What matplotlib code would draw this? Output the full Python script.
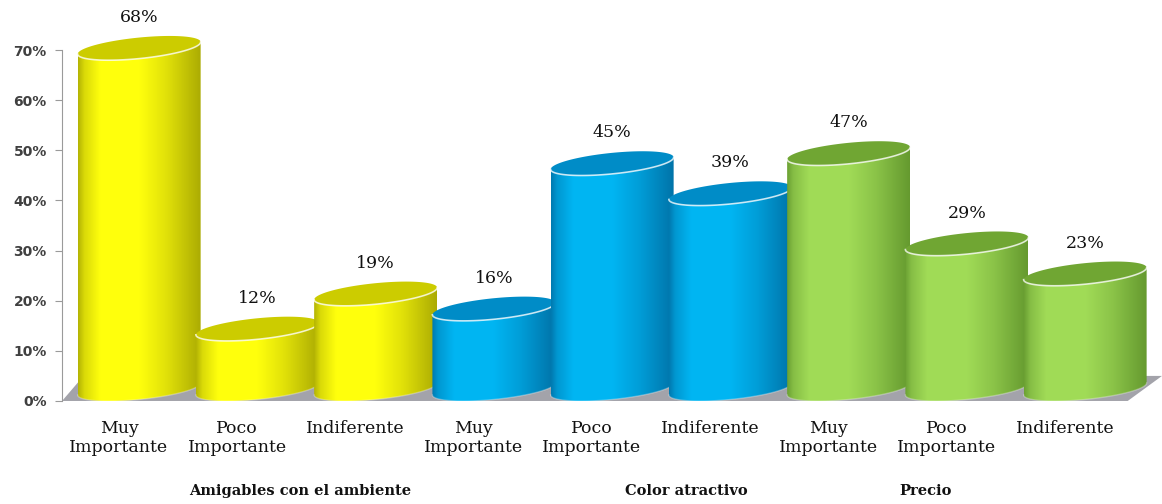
import numpy as np
import matplotlib
matplotlib.use("Agg")
import matplotlib.pyplot as plt
from matplotlib.patches import Polygon

# data
categories = ["Muy\nImportante", "Poco\nImportante", "Indiferente"] * 3
groups = ["Amigables con el ambiente", "Color atractivo", "Precio"]
values = [0.68, 0.12, 0.19, 0.16, 0.45, 0.39, 0.47, 0.29, 0.23]
value_labels = ["68%", "12%", "19%", "16%", "45%", "39%", "47%", "29%", "23%"]
yticks = [0.0, 0.1, 0.2, 0.3, 0.4, 0.5, 0.6, 0.7]
ytick_labels = ["0%", "10%", "20%", "30%", "40%", "50%", "60%", "70%"]

# colours per group: (light side, dark side, top)
palette = [
    ((1.0, 1.0, 0.05), (0.58, 0.58, 0.0), (0.80, 0.80, 0.0)),
    ((0.0, 0.71, 0.95), (0.0, 0.38, 0.58), (0.0, 0.55, 0.78)),
    ((0.63, 0.86, 0.34), (0.33, 0.53, 0.14), (0.44, 0.65, 0.20)),
]

# 3d look parameters
dx = 0.17      # depth shift to the right
off = 0.024    # depth shift up
a = 0.52       # half width
b = 0.021      # ellipse half height
s = 0.012      # tilt of the ellipse

fig = plt.figure(figsize=(11.62, 5.04), dpi=100)
ax = fig.add_axes([0.0534, 0.2044, 0.9466, 0.7758])

# floor
floor = Polygon([(-0.482, 0.0), (8.53, 0.0), (8.82, 0.05), (-0.30, 0.05)],
                closed=True, facecolor="#a3a3aa", edgecolor="none", zorder=1)
ax.add_patch(floor)

t_front = np.linspace(np.pi, 2 * np.pi, 80)
t_full = np.linspace(0, 2 * np.pi, 160)
u = np.linspace(0, 1, 200)
shade = np.interp(u, [0, 0.05, 0.18, 0.5, 0.72, 1.0], [0.3, 0.65, 1.0, 1.0, 0.72, 0.22])

for i, v in enumerate(values):
    light, dark, top = [np.array(c) for c in palette[i // 3]]
    cx = i + dx
    y0 = off
    y1 = v + off
    z = 2 + i

    # body
    top_arc = np.column_stack([cx + a * np.cos(t_front), y1 + b * np.sin(t_front) + s * np.cos(t_front)])
    bot_arc = np.column_stack([cx + a * np.cos(t_front), y0 + b * np.sin(t_front) + s * np.cos(t_front)])
    body = Polygon(np.vstack([top_arc, bot_arc[::-1]]), closed=True,
                   facecolor="none", edgecolor="none", zorder=z)
    ax.add_patch(body)
    grad = dark[None, :] + (light - dark)[None, :] * shade[:, None]
    img = ax.imshow(grad[None, :, :], extent=[cx - a, cx + a, y0 - b - s, y1 + b + s],
                    aspect="auto", origin="lower", zorder=z, interpolation="bilinear")
    img.set_clip_path(body)

    # top ellipse
    ell = np.column_stack([cx + a * np.cos(t_full), y1 + b * np.sin(t_full) + s * np.cos(t_full)])
    ax.add_patch(Polygon(ell, closed=True, facecolor=top, edgecolor="none", zorder=z + 0.1))
    ax.plot(top_arc[:, 0], top_arc[:, 1], color="white", alpha=0.75, lw=1.2, zorder=z + 0.2)
    ax.plot(bot_arc[:, 0], bot_arc[:, 1], color="white", alpha=0.3, lw=1.0, zorder=z + 0.2)

    ax.text(cx, v + 0.085, value_labels[i], ha="center", va="center",
            fontsize=12.5, family="DejaVu Serif", color="#111111")

# axes styling
ax.set_xlim(-0.482, 8.82)
ax.set_ylim(0, 0.78)
for sp in ["top", "right", "bottom"]:
    ax.spines[sp].set_visible(False)
ax.spines["left"].set_bounds(0, 0.7)
ax.spines["left"].set_color("#9a9a9a")
ax.set_yticks(yticks)
ax.set_yticklabels(ytick_labels, fontsize=10, fontweight="bold", family="DejaVu Sans", color="#404040")
ax.tick_params(axis="y", length=5, color="#9a9a9a", pad=6)
ax.set_xticks(range(len(categories)))
ax.set_xticklabels(categories, fontsize=12.5, family="DejaVu Serif", color="#111111", linespacing=1.1)
ax.tick_params(axis="x", length=0, pad=14)

# group labels
group_x = [1.53, 4.80, 6.82]
for gx, g in zip(group_x, groups):
    ax.text(gx, -0.18, g, ha="center", va="center", fontsize=10.5, fontweight="bold",
            family="DejaVu Serif", color="#111111")

fig.savefig("out.png", dpi=100)
